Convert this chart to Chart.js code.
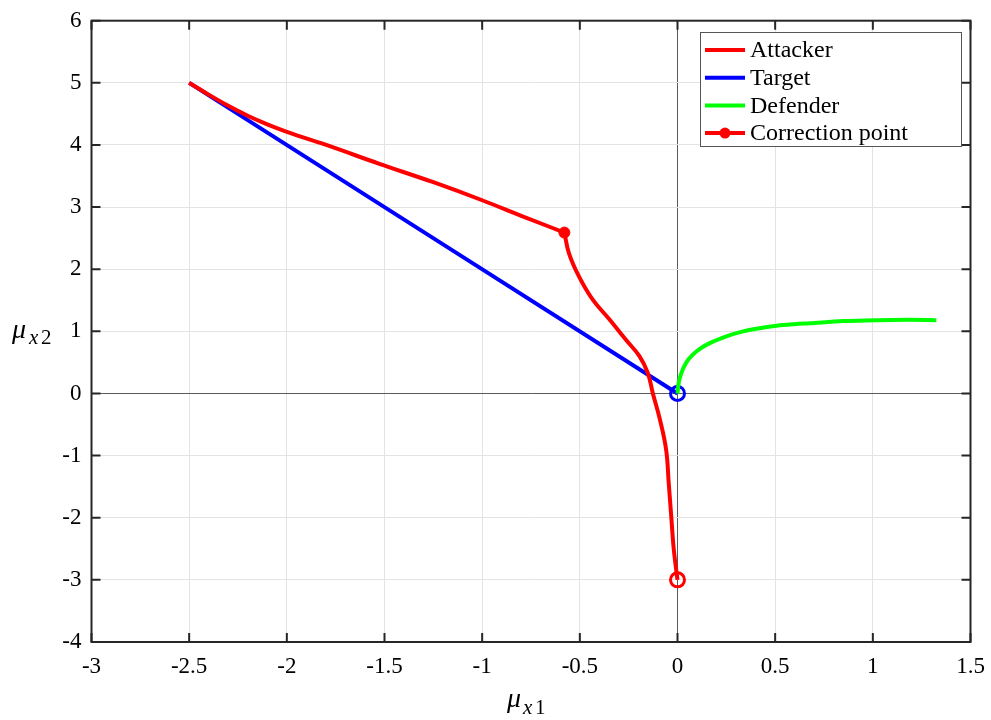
<!DOCTYPE html>
<html>
<head>
<meta charset="utf-8">
<script src="https://cdn.jsdelivr.net/npm/chart.js@4.4.1/dist/chart.umd.min.js"></script>
<style>
  html, body { margin: 0; padding: 0; background: #fff; }
  #wrap { width: 991px; height: 720px; }
</style>
</head>
<body>
<div id="wrap"><canvas id="c" width="991" height="720"></canvas></div>
<script>
// values
const attackerX1 = [-2.5, -2.4, -2.3, -2.2, -2.1, -2.0, -1.78, -1.53, -1.25, -1.0, -0.8, -0.579];
const attackerY1 = [5.0, 4.81, 4.63, 4.47, 4.33, 4.21, 3.98, 3.70, 3.40, 3.11, 2.86, 2.59];
const attackerX2 = [-0.579, -0.556, -0.504, -0.434, -0.348, -0.263, -0.195, -0.152, -0.126, -0.09, -0.058, -0.045, -0.032, -0.019, 0];
const attackerY2 = [2.59, 2.26, 1.88, 1.51, 1.19, 0.86, 0.60, 0.33, 0.0, -0.42, -0.91, -1.44, -1.98, -2.51, -3.0];
const targetX = [-2.5, 0];
const targetY = [5, 0];
const defenderX = [0, 0.005, 0.02, 0.045, 0.08, 0.12, 0.165, 0.25, 0.336, 0.42, 0.507, 0.6, 0.677, 0.848, 1.018, 1.18, 1.325];
const defenderY = [0, 0.15, 0.33, 0.5, 0.63, 0.73, 0.81, 0.92, 1.0, 1.05, 1.09, 1.115, 1.13, 1.165, 1.18, 1.185, 1.18];
const correctionPt = [-0.579, 2.59];
const attackerEnd = [0, -3];
const targetEnd = [0, 0];
const xTicks = [-3, -2.5, -2, -1.5, -1, -0.5, 0, 0.5, 1, 1.5];
const yTicks = [-4, -3, -2, -1, 0, 1, 2, 3, 4, 5, 6];

const zip = (xs, ys) => xs.map((x, i) => ({ x: x, y: ys[i] }));
const SERIF = '"Liberation Serif", "Times New Roman", serif';

const legendItems = [
    { label: 'Attacker', color: '#ff0000', marker: false },
    { label: 'Target', color: '#0000ff', marker: false },
    { label: 'Defender', color: '#00ff00', marker: false },
    { label: 'Correction point', color: '#ff0000', marker: true }
];

// box, inward ticks, legend and math labels, MATLAB style
const decor = {
    id: 'decor',
    afterDraw(chart) {
        const ctx = chart.ctx;
        const a = chart.chartArea;
        const xs = chart.scales.x, ys = chart.scales.y;
        ctx.save();
        ctx.strokeStyle = '#262626';
        ctx.lineWidth = 2;
        ctx.strokeRect(a.left, a.top, a.right - a.left, a.bottom - a.top);
        ctx.beginPath();
        xTicks.forEach(v => {
            const px = xs.getPixelForValue(v);
            ctx.moveTo(px, a.bottom); ctx.lineTo(px, a.bottom - 9);
            ctx.moveTo(px, a.top); ctx.lineTo(px, a.top + 9);
        });
        yTicks.forEach(v => {
            const py = ys.getPixelForValue(v);
            ctx.moveTo(a.left, py); ctx.lineTo(a.left + 9, py);
            ctx.moveTo(a.right, py); ctx.lineTo(a.right - 9, py);
        });
        ctx.stroke();

        // legend
        const lx = 700, ly = 32, lw = 261, lh = 114;
        ctx.fillStyle = '#fff';
        ctx.fillRect(lx, ly, lw, lh);
        ctx.strokeStyle = '#555';
        ctx.lineWidth = 1;
        ctx.strokeRect(lx + 0.5, ly + 0.5, lw, lh);
        ctx.font = '24px ' + SERIF;
        ctx.textBaseline = 'middle';
        ctx.textAlign = 'left';
        legendItems.forEach((it, i) => {
            const cy = ly + 18 + i * 27.7;
            ctx.strokeStyle = it.color;
            ctx.lineWidth = 4;
            ctx.beginPath();
            ctx.moveTo(705, cy); ctx.lineTo(745, cy);
            ctx.stroke();
            if (it.marker) {
                ctx.fillStyle = it.color;
                ctx.beginPath();
                ctx.arc(725, cy, 5.5, 0, Math.PI * 2);
                ctx.fill();
            }
            ctx.fillStyle = '#000';
            ctx.fillText(it.label, 750, cy + 1);
        });

        // axis titles
        ctx.fillStyle = '#000';
        ctx.textBaseline = 'alphabetic';
        ctx.font = 'italic 28px ' + SERIF;
        ctx.fillText('\u03bc', 507, 707);
        ctx.font = 'italic 21px ' + SERIF;
        ctx.fillText('x', 523, 714);
        ctx.font = '21px ' + SERIF;
        ctx.fillText('1', 535, 714);

        ctx.font = 'italic 28px ' + SERIF;
        ctx.fillText('\u03bc', 12, 338);
        ctx.font = 'italic 21px ' + SERIF;
        ctx.fillText('x', 29, 344);
        ctx.font = '21px ' + SERIF;
        ctx.fillText('2', 41, 344);
        ctx.restore();
    }
};

const lineSet = (label, data, color, smooth) => ({
    label: label,
    data: data,
    showLine: true,
    borderColor: color,
    backgroundColor: color,
    borderWidth: 4,
    pointRadius: 0,
    cubicInterpolationMode: smooth === 'monotone' ? 'monotone' : 'default',
    tension: smooth === 'monotone' ? 0 : 0.4,
    fill: false
});

const markerSet = (label, pt, color, filled) => ({
    label: label,
    data: [{ x: pt[0], y: pt[1] }],
    showLine: false,
    pointRadius: filled ? 5.5 : 7,
    pointBorderWidth: filled ? 1 : 3,
    pointBorderColor: color,
    pointBackgroundColor: filled ? color : 'rgba(0,0,0,0)'
});

new Chart(document.getElementById('c'), {
    type: 'scatter',
    data: {
        datasets: [
            lineSet('Defender', zip(defenderX, defenderY), '#00ff00', 'monotone'),
            lineSet('Attacker', zip(attackerX1, attackerY1), '#ff0000', 'monotone'),
            lineSet('Attacker (after)', zip(attackerX2, attackerY2), '#ff0000', 'bezier'),
            lineSet('Target', zip(targetX, targetY), '#0000ff', 'monotone'),
            markerSet('Correction point', correctionPt, '#ff0000', true),
            markerSet('Attacker end', attackerEnd, '#ff0000', false),
            markerSet('Target end', targetEnd, '#0000ff', false)
        ]
    },
    options: {
        responsive: false,
        animation: false,
        layout: { padding: { left: 0, right: 20.5, top: 20.7, bottom: 0 } },
        plugins: { legend: { display: false }, tooltip: { enabled: false } },
        scales: {
            x: {
                type: 'linear',
                min: -3, max: 1.5,
                afterBuildTicks: s => { s.ticks = xTicks.map(v => ({ value: v })); },
                afterFit: s => { s.height = 78; s.paddingRight = 0; s.paddingLeft = 0; },
                border: { display: false },
                grid: {
                    drawTicks: false,
                    color: ctx => ctx.tick && ctx.tick.value === 0 ? '#5a5a5a' : '#e3e3e3',
                    lineWidth: 1
                },
                ticks: {
                    padding: 11,
                    color: '#000',
                    font: { family: SERIF, size: 23 },
                    callback: v => String(v)
                }
            },
            y: {
                type: 'linear',
                min: -4, max: 6,
                afterBuildTicks: s => { s.ticks = yTicks.map(v => ({ value: v })); },
                afterFit: s => { s.width = 91.5; s.paddingTop = 0; s.paddingBottom = 0; },
                border: { display: false },
                grid: {
                    drawTicks: false,
                    color: ctx => ctx.tick && ctx.tick.value === 0 ? '#5a5a5a' : '#e3e3e3',
                    lineWidth: 1
                },
                ticks: {
                    padding: 10,
                    color: '#000',
                    font: { family: SERIF, size: 23 },
                    callback: v => String(v)
                }
            }
        }
    },
    plugins: [decor]
});
</script>
</body>
</html>
